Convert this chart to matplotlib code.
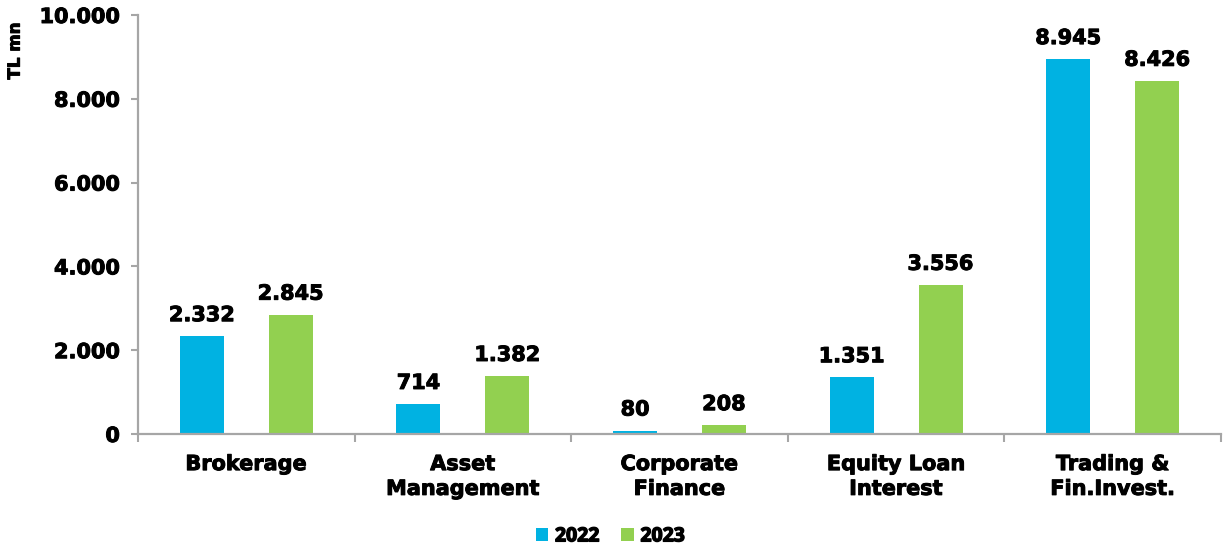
import matplotlib
matplotlib.use("Agg")
import matplotlib.pyplot as plt
import matplotlib.patheffects as pe
import numpy as np

# data
categories = ['Brokerage', 'Asset\nManagement', 'Corporate\nFinance', 'Equity Loan\nInterest', 'Trading &\nFin.Invest.']
vals_2022 = [2332, 714, 80, 1351, 8945]
vals_2023 = [2845, 1382, 208, 3556, 8426]
yticks = [0, 2000, 4000, 6000, 8000, 10000]

blue = '#00B2E2'
green = '#92D050'
grey = '#A6A6A6'

# thin stroke to get closer to the heavy Verdana look
heavy = [pe.withStroke(linewidth=0.7, foreground='black')]

def fmt(v):
    # dot as thousands separator
    return '{:,}'.format(int(v)).replace(',', '.')

fig = plt.figure(figsize=(12.23, 5.49), dpi=100)
ax = fig.add_axes([0.1128, 0.2095, 0.8856, 0.7632])

x = np.arange(len(categories))
w = 0.203
off = 0.205
b1 = ax.bar(x - off, vals_2022, w, color=blue, label='2022')
b2 = ax.bar(x + off, vals_2023, w, color=green, label='2023')

for bars, vals in ((b1, vals_2022), (b2, vals_2023)):
    for b, v in zip(bars, vals):
        ax.annotate(fmt(v), (b.get_x() + b.get_width() / 2, v), xytext=(0, 8),
                    textcoords='offset points', ha='center', va='bottom',
                    fontsize=15, fontweight='bold', path_effects=heavy)

ax.set_xlim(-0.5, len(categories) - 0.5)
ax.set_ylim(0, 10000)
ax.set_yticks(yticks)
ax.set_yticklabels([fmt(t) for t in yticks], fontsize=15, fontweight='bold')
for t in ax.get_yticklabels():
    t.set_path_effects(heavy)

# category labels between boundary ticks
ax.set_xticks(np.arange(-0.5, len(categories), 1.0))
ax.set_xticklabels([])
for i, c in enumerate(categories):
    ax.text(i, -480, c, ha='center', va='top', fontsize=15, fontweight='bold',
            linespacing=1.3, path_effects=heavy)

for s in ['top', 'right']:
    ax.spines[s].set_visible(False)
for s in ['left', 'bottom']:
    ax.spines[s].set_color(grey)
    ax.spines[s].set_linewidth(1.6)
ax.tick_params(axis='both', color=grey, width=1.5, length=5, direction='out', pad=8)
ax.tick_params(axis='x', length=6)

fig.text(0.012, 0.907, 'TL mn', rotation=90, ha='center', va='center',
         fontsize=12, fontweight='bold', path_effects=heavy)

leg = fig.legend(handles=[b1, b2], loc='center', bbox_to_anchor=(0.499, 0.023),
                 ncol=2, frameon=False, prop={'family': 'Open Sans', 'weight': 'bold', 'size': 14},
                 handlelength=0.65, handleheight=0.65, handletextpad=0.35, columnspacing=1.1)
for t in leg.get_texts():
    t.set_path_effects([pe.withStroke(linewidth=1.0, foreground='black')])

fig.savefig('out.png', dpi=100)
